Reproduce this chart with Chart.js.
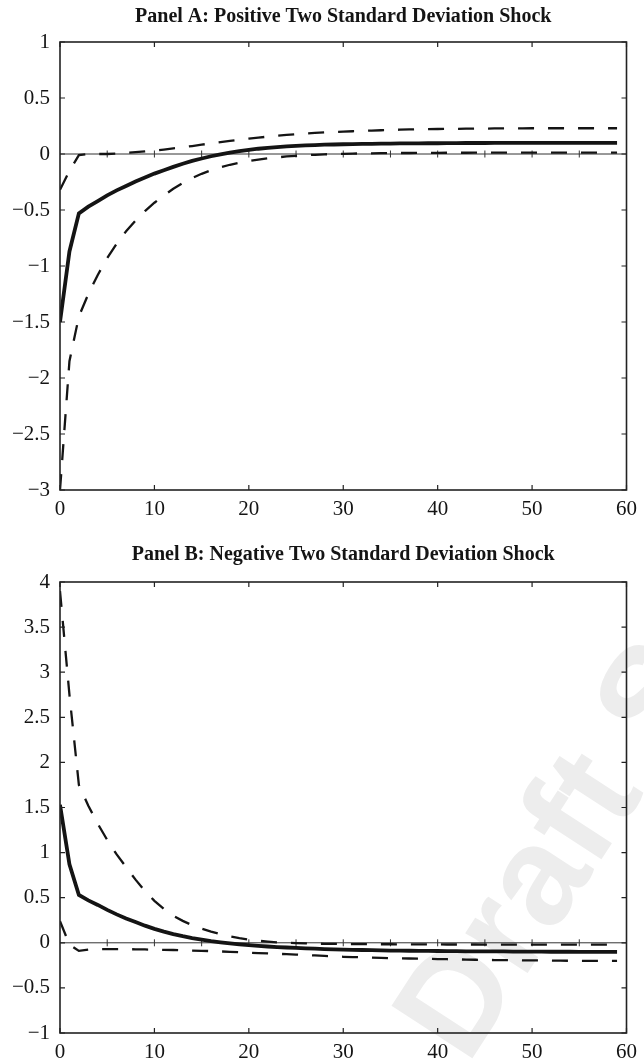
<!DOCTYPE html>
<html><head><meta charset="utf-8">
<script src="https://cdn.jsdelivr.net/npm/chart.js@4.4.1/dist/chart.umd.min.js"></script>
<style>
html,body{margin:0;padding:0;background:#fff;width:644px;height:1062px;overflow:hidden}
.box{position:absolute;left:0;width:644px;height:531px}
</style></head><body>
<div class="box" style="top:0"><canvas id="cA"></canvas></div>
<div class="box" style="top:531px"><canvas id="cB"></canvas></div>
<script>
// ---- data ----
const periods = Array.from({length:60},(_,i)=>i);
const zeroLineTicks = [5,10,15,20,25,30,35,40,45,50,55];
const titleA = "Panel A: Positive Two Standard Deviation Shock";
const titleB = "Panel B: Negative Two Standard Deviation Shock";
const yRangeA = [-3, 1];
const yRangeB = [-1, 4];
const watermarkText = "Draft Submission";

const posResponse = [-1.50,-0.87,-0.53,-0.47,-0.42,-0.37,-0.325,-0.285,-0.245,-0.21,
 -0.175,-0.145,-0.115,-0.087,-0.062,-0.04,-0.02,-0.003,0.012,0.025,
 0.037,0.047,0.055,0.062,0.068,0.073,0.077,0.08,0.083,0.085,
 0.087,0.089,0.09,0.091,0.092,0.093,0.094,0.095,0.095,0.096,
 0.096,0.097,0.097,0.098,0.098,0.098,0.099,0.099,0.099,0.1,
 0.1,0.1,0.1,0.1,0.1,0.1,0.1,0.1,0.1,0.1];
const posUpper = [-0.32,-0.15,-0.01,0.0,0.0,0.0,0.005,0.01,0.016,0.023,
 0.031,0.04,0.05,0.06,0.071,0.083,0.095,0.106,0.117,0.127,
 0.137,0.146,0.155,0.163,0.17,0.177,0.183,0.188,0.193,0.197,
 0.2,0.203,0.206,0.209,0.212,0.215,0.217,0.219,0.221,0.222,
 0.223,0.224,0.225,0.226,0.227,0.227,0.228,0.228,0.229,0.229,
 0.23,0.23,0.23,0.23,0.23,0.23,0.23,0.23,0.23,0.23];
const posLower = [-3.0,-1.85,-1.45,-1.25,-1.08,-0.93,-0.80,-0.69,-0.595,-0.51,
 -0.435,-0.37,-0.31,-0.26,-0.215,-0.177,-0.145,-0.118,-0.096,-0.078,
 -0.063,-0.05,-0.039,-0.03,-0.022,-0.016,-0.011,-0.007,-0.003,0.0,
 0.002,0.004,0.005,0.006,0.007,0.008,0.009,0.009,0.01,0.01,
 0.01,0.011,0.011,0.011,0.012,0.012,0.012,0.012,0.012,0.012,
 0.012,0.012,0.012,0.012,0.012,0.012,0.012,0.012,0.012,0.012];

const negResponse = [1.53,0.87,0.53,0.47,0.42,0.365,0.315,0.27,0.23,0.19,
 0.155,0.124,0.097,0.073,0.052,0.034,0.018,0.005,-0.007,-0.017,
 -0.026,-0.034,-0.041,-0.047,-0.052,-0.057,-0.061,-0.065,-0.069,-0.072,
 -0.075,-0.078,-0.08,-0.082,-0.084,-0.086,-0.087,-0.088,-0.089,-0.09,
 -0.091,-0.092,-0.093,-0.094,-0.095,-0.095,-0.096,-0.096,-0.097,-0.097,
 -0.098,-0.098,-0.099,-0.099,-0.099,-0.1,-0.1,-0.1,-0.1,-0.1];
const negUpper = [3.9,2.75,1.75,1.52,1.32,1.14,0.98,0.84,0.70,0.575,
 0.465,0.375,0.30,0.243,0.196,0.157,0.124,0.096,0.072,0.052,
 0.036,0.023,0.013,0.005,0.0,-0.004,-0.007,-0.009,-0.011,-0.012,
 -0.013,-0.014,-0.015,-0.015,-0.016,-0.016,-0.017,-0.017,-0.018,-0.018,
 -0.018,-0.019,-0.019,-0.019,-0.019,-0.02,-0.02,-0.02,-0.02,-0.02,
 -0.02,-0.02,-0.02,-0.02,-0.02,-0.02,-0.02,-0.02,-0.02,-0.02];
const negLower = [0.24,-0.02,-0.09,-0.075,-0.07,-0.07,-0.07,-0.07,-0.072,-0.074,
 -0.076,-0.078,-0.08,-0.083,-0.086,-0.089,-0.092,-0.096,-0.1,-0.105,
 -0.11,-0.114,-0.118,-0.122,-0.126,-0.13,-0.135,-0.14,-0.145,-0.15,
 -0.155,-0.158,-0.161,-0.164,-0.167,-0.17,-0.172,-0.174,-0.176,-0.178,
 -0.18,-0.182,-0.184,-0.186,-0.188,-0.19,-0.191,-0.192,-0.193,-0.194,
 -0.195,-0.196,-0.197,-0.198,-0.199,-0.2,-0.2,-0.2,-0.2,-0.2];

// ---- rendering ----
const SERIF = "'Liberation Serif','Times New Roman',serif";
const INK = '#141414';
Chart.defaults.font.family = SERIF;
Chart.defaults.color = INK;

const toXY = vals => periods.map((p,i)=>({x:p, y:vals[i]}));
const fmt = v => (v < 0 ? '\u2212' : '') + String(Math.abs(Math.round(v*10)/10));

const framePlugin = {
  id: 'frame',
  beforeDatasetsDraw(chart){
    const {ctx, chartArea:a, scales:{x,y}} = chart;
    const y0 = y.getPixelForValue(0);
    ctx.save();
    ctx.strokeStyle = '#333'; ctx.lineWidth = 1;
    ctx.beginPath();
    ctx.moveTo(a.left, y0); ctx.lineTo(a.right, y0);
    zeroLineTicks.forEach(v => { const px = x.getPixelForValue(v); ctx.moveTo(px, y0-3.5); ctx.lineTo(px, y0+3.5); });
    ctx.stroke();
    ctx.restore();
  },
  afterDatasetsDraw(chart){
    const {ctx, chartArea:a, scales:{x,y}} = chart;
    ctx.save();
    ctx.strokeStyle = '#222'; ctx.lineWidth = 1.6;
    ctx.strokeRect(a.left, a.top, a.right-a.left, a.bottom-a.top);
    ctx.lineWidth = 1.2;
    ctx.beginPath();
    x.ticks.forEach(t => { const px = x.getPixelForValue(t.value);
      ctx.moveTo(px, a.bottom); ctx.lineTo(px, a.bottom-5);
      ctx.moveTo(px, a.top); ctx.lineTo(px, a.top+5); });
    y.ticks.forEach(t => { const py = y.getPixelForValue(t.value);
      ctx.moveTo(a.left, py); ctx.lineTo(a.left+5, py);
      ctx.moveTo(a.right, py); ctx.lineTo(a.right-5, py); });
    ctx.stroke();
    ctx.restore();
  }
};

const watermarkPlugin = {
  id: 'watermark',
  beforeDraw(chart){
    const ctx = chart.ctx;
    ctx.save();
    ctx.translate(462, 472);
    ctx.rotate(-57 * Math.PI / 180);
    ctx.font = "bold 140px 'Liberation Sans', Arial, sans-serif";
    ctx.fillStyle = '#ededed';
    ctx.textBaseline = 'middle';
    ctx.textAlign = 'left';
    ctx.fillText(watermarkText, -50, 0);
    ctx.restore();
  }
};

function makeChart(id, title, titlePad, bottomH, yr, series, extraPlugins){
  const mk = (vals, w, dash) => ({data: toXY(vals), borderColor: INK, borderWidth: w,
    borderDash: dash, pointRadius: 0, tension: 0, fill: false});
  return new Chart(document.getElementById(id), {
    type: 'line',
    data: {datasets: [
      mk(series[1], 2.3, [16,14]),
      mk(series[2], 2.3, [16,14]),
      mk(series[0], 3.8, [])
    ]},
    options: {
      responsive: true, maintainAspectRatio: false, animation: false,
      layout: {padding: {left: 0, right: 11, top: 0, bottom: 0}},
      plugins: {
        legend: {display: false}, tooltip: {enabled: false},
        title: {display: true, text: title, fullSize: false, color: INK,
          font: {family: SERIF, size: 20, weight: 'bold', lineHeight: 1.2},
          padding: {top: titlePad[0], bottom: titlePad[1]}}
      },
      scales: {
        x: {type: 'linear', min: 0, max: 60,
          grid: {display: false, drawTicks: false}, border: {display: false},
          ticks: {stepSize: 10, padding: 7, maxRotation: 0, autoSkip: false, font: {size: 21}, color: INK},
          afterFit(s){ s.height = bottomH; }},
        y: {type: 'linear', min: yr[0], max: yr[1],
          grid: {display: false, drawTicks: false}, border: {display: false},
          ticks: {stepSize: 0.5, padding: 10, autoSkip: false, font: {size: 21}, color: INK, callback: v => fmt(v)},
          afterFit(s){ s.width = 60; }}
      }
    },
    plugins: [framePlugin].concat(extraPlugins || [])
  });
}

makeChart('cA', titleA, [5, 13], 41, yRangeA, [posResponse, posUpper, posLower]);
makeChart('cB', titleB, [12, 15], 29, yRangeB, [negResponse, negUpper, negLower], [watermarkPlugin]);
</script>
</body></html>
